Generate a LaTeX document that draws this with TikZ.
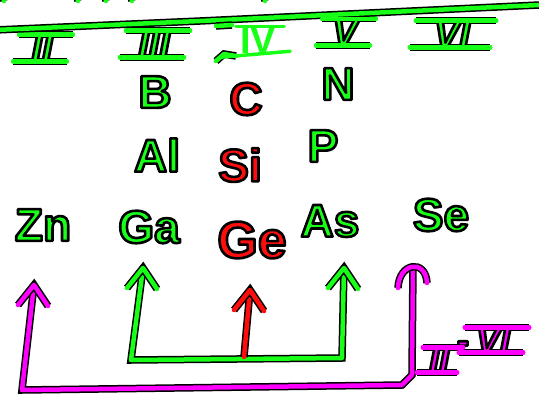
\documentclass[tikz,border=0pt]{standalone}
\usepackage{fontspec}
\setmainfont{Liberation Sans}
\definecolor{inkgreen}{RGB}{24,255,24}
\definecolor{inkred}{RGB}{255,12,12}
\definecolor{inkpink}{RGB}{255,0,255}
\pgfdeclarelayer{paper}
\pgfdeclarelayer{under}
\pgfsetlayers{paper,under,main}
% filled glyphs with a black stroked edge
\newcommand\edged[1]{\special{pdf:literal direct 2 Tr 2.6 w 1 j 0 0 0 RG}#1\special{pdf:literal direct 0 Tr}}
\tikzset{
  ink/.style={line width=4.5pt,line cap=round,line join=round,
              preaction={draw=black,line width=7.5pt}},
  core/.style={line width=4.2pt,line cap=round,line join=round},
  softink/.style={line width=3.5pt,line cap=round,line join=round},
  elem/.style={inner sep=0pt,font=\fontsize{46}{46}\selectfont\bfseries},
  numeral/.style={inner sep=0pt,font=\fontsize{38}{38}\selectfont\bfseries\itshape},
  vhead/.pic={\draw[ink] (-16,20) -- (0,0) -- (14,21);}
}
% bars above and below a Roman numeral: outlined strokes under the glyphs,
% plain strokes on top so bars and stems merge
\newcommand\numbars[3]{%
  \begin{pgfonlayer}{under}
  \draw[ink,#2] ([xshift=-#3+4pt]#1.north west) -- ([xshift=#3+4pt]#1.north east);
  \draw[ink,#2] ([xshift=-#3-2pt]#1.south west) -- ([xshift=#3-2pt]#1.south east);
  \end{pgfonlayer}
  \draw[core,#2] ([xshift=-#3+4pt]#1.north west) -- ([xshift=#3+4pt]#1.north east);
  \draw[core,#2] ([xshift=-#3-2pt]#1.south west) -- ([xshift=#3-2pt]#1.south east);}
\begin{document}
\begin{tikzpicture}[x=1pt,y=-1pt]
\useasboundingbox (0,0) rectangle (539,402);
\begin{pgfonlayer}{paper}
\fill[white] (0,0) rectangle (539,402);
\end{pgfonlayer}

% stroke ends poking in at the top edge
\foreach \px in {2,76,104,130,263}
  \draw[ink,inkgreen] (\px,-8) -- (\px+2,1);

% table header rule
\draw[ink,inkgreen] (-5,30) -- (200,21) -- (539,5);

% group numerals
\node[numeral,text=inkgreen] (gII)  at (42,48)  {\edged{II}};
\node[numeral,text=inkgreen] (gIII) at (154,44) {\edged{III}};
\node[numeral,text=inkgreen] (gV)   at (345,32) {\edged{V}};
\node[numeral,text=inkgreen] (gVI)  at (452,34) {\edged{VI}};
\numbars{gII}{inkgreen}{16pt}
\numbars{gIII}{inkgreen}{16pt}
\numbars{gV}{inkgreen}{14pt}
\numbars{gVI}{inkgreen}{22pt}
% group IV: old outlined bar ends, redrawn numeral over them
\draw[ink,inkgreen] (216,26) -- (232,25);
\draw[ink,inkgreen] (216,61) -- (224,54) -- (236,56);
\node[inner sep=0pt,font=\fontsize{38}{38}\selectfont\bfseries,text=inkgreen] (gIV) at (258,40) {IV};
\draw[softink,inkgreen] ([xshift=-4pt]gIV.north west) -- ([xshift=8pt]gIV.north east);
\draw[softink,inkgreen] ([xshift=-20pt,yshift=-4pt]gIV.south west) -- ([xshift=14pt,yshift=2pt]gIV.south east);

% elements
\node[elem,text=inkgreen] (B)  at (155,92)  {\edged{B}};
\node[elem,text=inkred]   (C)  at (246,99)  {\edged{C}};
\node[elem,text=inkgreen] (N)  at (338,84)  {\edged{N}};
\node[elem,text=inkgreen] (Al) at (157,155) {\edged{Al}};
\node[elem,text=inkred]   (Si) at (240,165) {\edged{Si}};
\node[elem,text=inkgreen] (P)  at (323,146) {\edged{P}};
\node[elem,text=inkgreen] (Zn) at (43,225)  {\edged{Zn}};
\node[elem,text=inkgreen] (Ga) at (149,227) {\edged{Ga}};
\node[elem,text=inkred,font=\fontsize{52}{52}\selectfont\bfseries] (Ge) at (252,240) {\edged{Ge}};
\node[elem,text=inkgreen] (As) at (330,221) {\edged{As}};
\node[elem,text=inkgreen] (Se) at (441,215) {\edged{Se}};

% arrow tips and corners
\coordinate (tipZn) at (34,285);
\coordinate (tipGa) at (143,268);
\coordinate (tipGe) at (250,290);
\coordinate (tipAs) at (344,268);
\coordinate (tipSe) at (413,266);
\coordinate (pL) at (22,390);
\coordinate (pR) at (402,385);
\coordinate (gL) at (131,360);
\coordinate (gR) at (342,358);
\coordinate (rB) at (244,357);

% II-VI pairing
\draw[ink,inkpink] (tipZn) -- (pL) -- (pR) -- (412,375) -- (tipSe);
\pic[inkpink] at (tipZn) {vhead};
\draw[ink,inkpink] (398,288) .. controls (399,262) and (426,259) .. (427,283);
\node[numeral,text=inkpink,font=\fontsize{36}{36}\selectfont\bfseries\itshape] (pII) at (439,360) {\edged{II}};
\node[numeral,text=inkpink,font=\fontsize{36}{36}\selectfont\bfseries] (pdash) at (463,347) {\edged{-}};
\node[numeral,text=inkpink,font=\fontsize{36}{36}\selectfont\bfseries\itshape] (pVI) at (493,340) {\edged{VI}};
\numbars{pII}{inkpink}{10pt}
\numbars{pVI}{inkpink}{15pt}

% III-V pairing
\draw[ink,inkgreen] (tipGa) -- (gL) -- (gR) -- (tipAs);
\pic[inkgreen] at (tipGa) {vhead};
\pic[inkgreen] at (tipAs) {vhead};

% group IV
\draw[ink,inkred] (rB) -- (tipGe);
\pic[inkred] at (tipGe) {vhead};
\end{tikzpicture}
\end{document}
